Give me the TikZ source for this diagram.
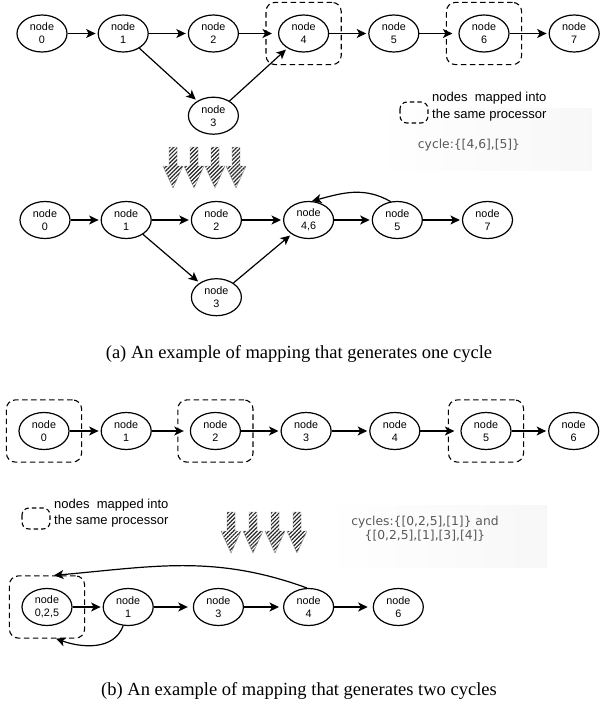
\documentclass[tikz,border=0pt]{standalone}
\usepackage{fontspec}
\setmainfont{Liberation Serif}
\setsansfont{Liberation Sans}
\newfontfamily\cyclefont{DejaVu Sans}
\usepackage{tikz}
\usetikzlibrary{arrows.meta, positioning, shapes.geometric, fit, patterns.meta}

\begin{document}
\begin{tikzpicture}[
    x=1pt, y=1pt,
    node distance=39pt and 39pt,
    every node/.style={align=center},
    task/.style={ellipse, draw, line width=1.2pt, minimum width=50pt, minimum height=37pt, inner sep=0pt, font=\sffamily\fontsize{10.8}{13}\selectfont},
    procbox/.style={rectangle, draw, dash pattern=on 5.5pt off 3.5pt, line width=1.1pt, rounded corners=9pt, inner sep=12pt},
    legendbox/.style={draw, dash pattern=on 4.5pt off 3pt, line width=1.1pt, rounded corners=7pt},
    legend/.style={font=\sffamily\fontsize{13}{16.5}\selectfont, align=left, anchor=west, inner sep=0pt},
    cycletext/.style={font=\cyclefont\fontsize{12.3}{14}\selectfont, text=black!65},
    cyclebg/.style={left color=white, right color=black!3, draw=none},
    hatch/.style={pattern={Lines[angle=45, distance=2.8pt, line width=1.2pt]}, pattern color=black!85, draw=black!45, line width=0.4pt},
    caption/.style={font=\fontsize{18.5}{22}\selectfont, anchor=base},
    arrow/.style={-{Stealth[length=9.5pt, width=9pt, inset=2.5pt]}, line width=1.2pt, shorten >=2pt}
]
\useasboundingbox (0,0) rectangle (606,-709);

% Backgrounds of the cycle notes
\path[cyclebg] (373,-108) rectangle (592,-170);
\path[cyclebg] (323,-505) rectangle (547,-567);

% (a) Nodes, original graph
\node[task] (a0) at (42,-33.5) {node\\0};
\node[task, right=30pt of a0] (a1) {node\\1};
\node[task, right=of a1] (a2) {node\\2};
\node[task, right=of a2] (a4) {node\\4};
\node[task, right=of a4] (a5) {node\\5};
\node[task, right=of a5] (a6) {node\\6};
\node[task, right=of a6] (a7) {node\\7};
\node[task, below=44pt of a2] (a3) {node\\3};
\node[procbox, fit=(a4)] (a4box) {};
\node[procbox, fit=(a6)] (a6box) {};

% (a) Legend and cycle
\draw[legendbox] (400,-102) rectangle (428,-123);
\node[legend] (alegend) at (432,-106.5) {nodes\ \ mapped into\\the same processor};
\node[cycletext] (acycle) at (469,-145) {cycle:\{[4,6],[5]\}};
\foreach \x in {173,194,215,236}
    \path[hatch] ({\x-4},-147) -- ({\x+4},-147) -- ({\x+4},-166) -- ({\x+10},-166)
        -- (\x,-188) -- ({\x-10},-166) -- ({\x-4},-166) -- cycle;

% (a) Nodes, mapped graph
\node[task] (c0) at (45,-220) {node\\0};
\node[task, right=30pt of c0] (c1) {node\\1};
\node[task, right=of c1] (c2) {node\\2};
\node[task, right=41pt of c2] (c46) {node\\4,6};
\node[task, right=37.5pt of c46] (c5) {node\\5};
\node[task, right=of c5] (c7) {node\\7};
\node[task, below=39pt of c2] (c3) {node\\3};
\node[caption] (capa) at (299,-358) {(a) An example of mapping that generates one cycle};

% (b) Nodes, original graph
\node[task] (b0) at (44,-431) {node\\0};
\node[task, right=31pt of b0] (b1) {node\\1};
\node[task, right=38pt of b1] (b2) {node\\2};
\node[task, right=39.5pt of b2] (b3) {node\\3};
\node[task, right=37.5pt of b3] (b4) {node\\4};
\node[task, right=40pt of b4] (b5) {node\\5};
\node[task, right=36.5pt of b5] (b6) {node\\6};
\node[procbox, fit=(b0)] (b0box) {};
\node[procbox, fit=(b2)] (b2box) {};
\node[procbox, fit=(b5)] (b5box) {};

% (b) Legend and cycles
\draw[legendbox] (22,-508) rectangle (50,-529);
\node[legend] (blegend) at (54,-513) {nodes\ \ mapped into\\the same processor};
\node[cycletext] (bcycle) at (425,-529) {cycles:\{[0,2,5],[1]\} and\\\{[0,2,5],[1],[3],[4]\}};
\foreach \x in {231,253,275,297}
    \path[hatch] ({\x-4},-512) -- ({\x+4},-512) -- ({\x+4},-531) -- ({\x+10},-531)
        -- (\x,-553) -- ({\x-10},-531) -- ({\x-4},-531) -- cycle;

% (b) Nodes, mapped graph
\node[task] (d0) at (47,-607) {node\\0,2,5};
\node[task, right=30pt of d0] (d1) {node\\1};
\node[task, right=of d1] (d3) {node\\3};
\node[task, right=of d3] (d4) {node\\4};
\node[task, right=38.5pt of d4] (d6) {node\\6};
\node[procbox, fit=(d0)] (d0box) {};
\node[caption] (capb) at (299,-695) {(b) An example of mapping that generates two cycles};

% Connections
\draw[arrow] (a0) -- (a1);
\draw[arrow] (a1) -- (a2);
\draw[arrow, shorten >=6pt] (a2) -- (a4);
\draw[arrow] (a4) -- (a5);
\draw[arrow, shorten >=6pt] (a5) -- (a6);
\draw[arrow] (a6) -- (a7);
\draw[arrow] (a1) -- (a3);
\draw[arrow] (a3) -- (a4);

\draw[arrow] (c0) -- (c1);
\draw[arrow] (c1) -- (c2);
\draw[arrow] (c2) -- (c46);
\draw[arrow] (c46) -- (c5);
\draw[arrow] (c5) -- (c7);
\draw[arrow] (c1) -- (c3);
\draw[arrow] (c3) -- (c46);
\draw[arrow, shorten >=0pt] (c5.110) to[out=150, in=15] (c46.80);

\draw[arrow] (b0) -- (b1);
\draw[arrow, shorten >=6pt] (b1) -- (b2);
\draw[arrow] (b2) -- (b3);
\draw[arrow] (b3) -- (b4);
\draw[arrow, shorten >=6pt] (b4) -- (b5);
\draw[arrow] (b5) -- (b6);

\draw[arrow] (d0) -- (d1);
\draw[arrow, shorten >=5pt] (d1) -- (d3);
\draw[arrow, shorten >=4pt] (d3) -- (d4);
\draw[arrow, shorten >=5pt] (d4) -- (d6);
\draw[arrow, shorten >=0pt] (d4.95) to[out=160, in=5] ([xshift=7pt]d0box.north);
\draw[arrow, shorten >=0pt] (d1.255) to[out=250, in=-20] ([xshift=9pt]d0box.south);

\end{tikzpicture}
\end{document}
